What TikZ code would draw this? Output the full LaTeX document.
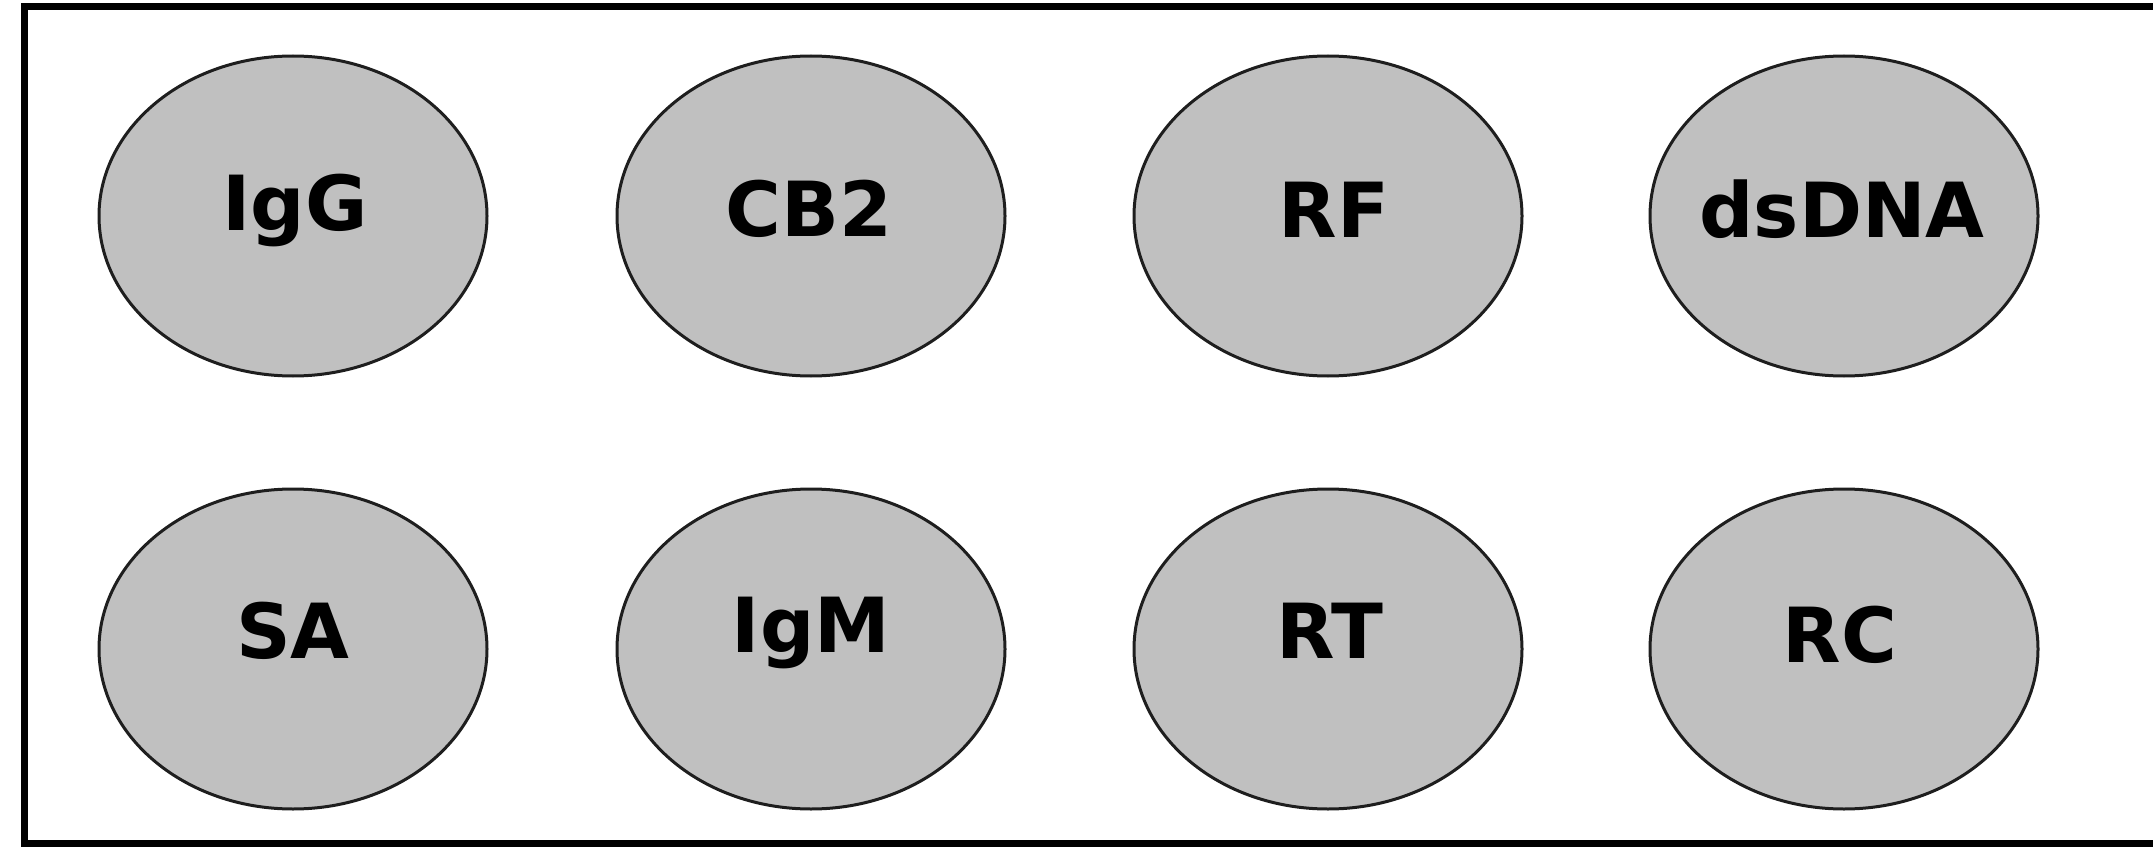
\documentclass[tikz,border=0pt]{standalone}
\usepackage{fontspec}
\newfontfamily\labelfont{DejaVu Sans}
\usetikzlibrary{shapes.geometric,calc}
\definecolor{cellfill}{RGB}{192,192,192}
\definecolor{cellline}{RGB}{30,30,30}
\tikzset{
  cell/.style={ellipse, draw=cellline, fill=cellfill, line width=3pt,
    minimum width=388pt, minimum height=320pt, inner sep=0pt},
  celltext/.style={font=\labelfont\bfseries\fontsize{76}{76}\selectfont,
    text=black, inner sep=0pt, anchor=center},
  frame/.style={draw=black, line width=7.5pt}
}
\begin{document}
\begin{tikzpicture}[x=1pt,y=-1pt]
  \useasboundingbox (0,0) rectangle (2153,848);
  % outer frame, its right side runs past the page edge
  \draw[frame] (2200,6.5) -- (24.5,6.5) -- (24.5,843.5) -- (2200,843.5);

  % top row
  \node[cell] (eIgG)   at (293,216)  {};
  \node[cell] (eCB2)   at (811,216)  {};
  \node[cell] (eRF)    at (1328,216) {};
  \node[cell] (edsDNA) at (1844,216) {};
  % bottom row
  \node[cell] (eSA)    at (293,649)  {};
  \node[cell] (eIgM)   at (811,649)  {};
  \node[cell] (eRT)    at (1328,649) {};
  \node[cell] (eRC)    at (1844,649) {};

  % labels, set a little above each cell's centre
  \node[celltext] (tIgG)   at ($(eIgG)+(2,-6)$)    {IgG};
  \node[celltext] (tCB2)   at ($(eCB2)+(-2,-7)$)   {CB2};
  \node[celltext] (tRF)    at ($(eRF)+(6,-6)$)     {RF};
  \node[celltext] (tdsDNA) at ($(edsDNA)+(-2,-7)$) {dsDNA};
  \node[celltext] (tSA)    at ($(eSA)+(0,-18)$)    {SA};
  \node[celltext] (tIgM)   at ($(eIgM)+(0,-16)$)   {IgM};
  \node[celltext] (tRT)    at ($(eRT)+(2,-18)$)    {RT};
  \node[celltext] (tRC)    at ($(eRC)+(-4,-14)$)   {RC};
\end{tikzpicture}
\end{document}
